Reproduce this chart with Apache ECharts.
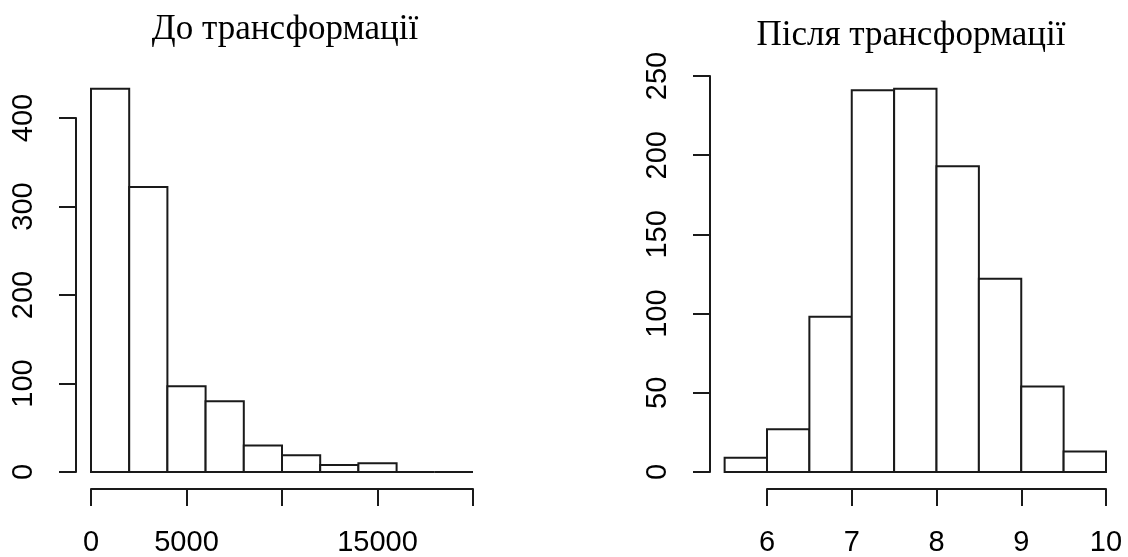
<!DOCTYPE html>
<html>
<head>
<meta charset="utf-8">
<script src="https://cdn.jsdelivr.net/npm/echarts@6/dist/echarts.min.js"></script>
<style>
  html, body { margin: 0; padding: 0; background: #fff; }
  #chart { width: 1128px; height: 557px; }
</style>
</head>
<body>
<div id="chart"></div>
<script>
// histogram bins
var beforeBreaks = [0, 2000, 4000, 6000, 8000, 10000, 12000, 14000, 16000, 18000, 20000];
var beforeCounts = [433, 322, 97, 80, 30, 19, 8, 10, 0, 0];
var afterBreaks = [5.5, 6, 6.5, 7, 7.5, 8, 8.5, 9, 9.5, 10];
var afterCounts = [9, 27, 98, 241, 242, 193, 122, 54, 13];

// R dropped the overlapping labels 10000 and 20000
var beforeXLabels = [0, 5000, 15000];
var afterXLabels = [6, 7, 8, 9, 10];

var titleLeft = 'До трансформації';
var titleRight = 'Після трансформації';

function toBins(breaks, counts) {
    var out = [];
    for (var i = 0; i < counts.length; i++) {
        out.push([breaks[i], breaks[i + 1], counts[i]]);
    }
    return out;
}

var lineColor = '#1a1a1a';
var labelFont = 'Liberation Sans, Arial, sans-serif';
var titleFont = 'Liberation Serif, Times New Roman, serif';

function renderBar(params, api) {
    var p0 = api.coord([api.value(0), 0]);
    var p1 = api.coord([api.value(1), api.value(2)]);
    return {
        type: 'rect',
        shape: { x: p0[0], y: p1[1], width: p1[0] - p0[0], height: p0[1] - p1[1] },
        style: { fill: '#fff', stroke: lineColor, lineWidth: 2 }
    };
}

function xAxisOpt(idx, min, max, interval, shown) {
    return {
        type: 'value', gridIndex: idx, min: min, max: max, interval: interval,
        offset: 17,
        splitLine: { show: false },
        axisLine: { show: true, onZero: false, lineStyle: { color: lineColor, width: 2 } },
        axisTick: { show: true, length: 17, lineStyle: { color: lineColor, width: 2 } },
        axisLabel: { color: '#000', fontFamily: labelFont, fontSize: 29, margin: 39,
                     showMinLabel: true, showMaxLabel: true, hideOverlap: false,
                     formatter: function (v) { return shown.indexOf(v) >= 0 ? String(v) : ''; } }
    };
}

function yAxisOpt(idx, min, max, interval, offset) {
    return {
        type: 'value', gridIndex: idx, min: min, max: max, interval: interval,
        offset: offset,
        splitLine: { show: false },
        axisLine: { show: true, onZero: false, lineStyle: { color: lineColor, width: 2 } },
        axisTick: { show: true, length: 17, lineStyle: { color: lineColor, width: 2 } },
        axisLabel: { color: '#000', fontFamily: labelFont, fontSize: 29, margin: 38, rotate: 90,
                     showMinLabel: true, showMaxLabel: true }
    };
}

var chart = echarts.init(document.getElementById('chart'));

var option = {
    animation: false,
    backgroundColor: '#fff',
    title: [
        { text: titleLeft, left: 280, top: 7, textAlign: 'center',
          textStyle: { fontFamily: titleFont, fontSize: 35, fontWeight: 'normal', color: '#000' } },
        { text: titleRight, left: 906, top: 13, textAlign: 'center',
          textStyle: { fontFamily: titleFont, fontSize: 35, fontWeight: 'normal', color: '#000' } }
    ],
    grid: [
        { left: 91, right: 655, top: 118, bottom: 84 },
        { left: 767, right: 22, top: 76, bottom: 84 }
    ],
    xAxis: [
        xAxisOpt(0, 0, 20000, 5000, beforeXLabels),
        xAxisOpt(1, 6, 10, 1, afterXLabels)
    ],
    yAxis: [
        yAxisOpt(0, 0, 400, 100, 15),
        yAxisOpt(1, 0, 250, 50, 57)
    ],
    series: [
        {
            type: 'custom', xAxisIndex: 0, yAxisIndex: 0, clip: false,
            renderItem: renderBar, encode: { x: [0, 1], y: 2 },
            data: toBins(beforeBreaks, beforeCounts)
        },
        {
            type: 'custom', xAxisIndex: 1, yAxisIndex: 1, clip: false,
            renderItem: renderBar, encode: { x: [0, 1], y: 2 },
            data: toBins(afterBreaks, afterCounts)
        }
    ]
};

chart.setOption(option);
window.addEventListener('resize', function () {
    chart.resize();
});
</script>
</body>
</html>
